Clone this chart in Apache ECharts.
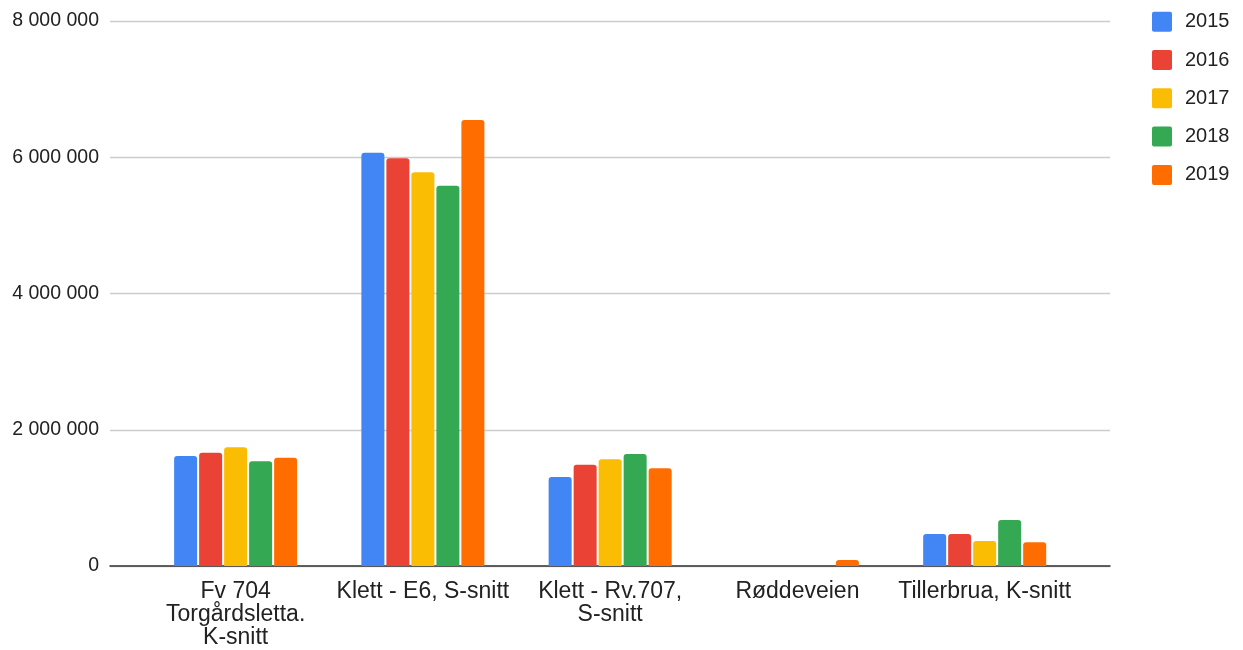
<!DOCTYPE html>
<html>
<head>
<meta charset="utf-8">
<script src="https://cdn.jsdelivr.net/npm/echarts@6/dist/echarts.min.js"></script>
<style>html,body{margin:0;padding:0;background:#fff}#c{width:1243px;height:650px}</style>
</head>
<body>
<div id="c"></div>
<script>
const categories = ['Fv 704\nTorgårdsletta.\nK-snitt', 'Klett - E6, S-snitt', 'Klett - Rv.707,\nS-snitt', 'Røddeveien', 'Tillerbrua, K-snitt'];
const seriesNames = ['2015', '2016', '2017', '2018', '2019'];
const y2015 = [1614000, 6065000, 1306000, null, 470000];
const y2016 = [1663000, 5987000, 1487000, null, 470000];
const y2017 = [1742000, 5780000, 1566000, null, 367000];
const y2018 = [1536000, 5580000, 1643000, null, 675000];
const y2019 = [1590000, 6545000, 1434000, 88000, 348000];
const yTicks = [0, 2000000, 4000000, 6000000, 8000000];
const colors = ['#4285F4', '#EA4335', '#FBBC04', '#34A853', '#FF6D01'];
const values = [y2015, y2016, y2017, y2018, y2019];

const font = '"Liberation Sans", Arial, sans-serif';
const fmt = v => String(v).replace(/\B(?=(\d{3})+(?!\d))/g, ' ');

const chart = echarts.init(document.getElementById('c'));
chart.setOption({
  animation: false,
  color: colors,
  textStyle: { fontFamily: font },
  grid: [
    { left: 142, right: 164.7, top: 21, bottom: 84 },
    { left: 110, right: 133, top: 21, bottom: 84 }
  ],
  legend: {
    orient: 'vertical',
    left: 1152,
    top: 11.7,
    padding: 0,
    icon: 'path://M2,0H18A2,2 0 0 1 20,2V18A2,2 0 0 1 18,20H2A2,2 0 0 1 0,18V2A2,2 0 0 1 2,0Z',
    itemWidth: 20,
    itemHeight: 20,
    itemGap: 18.3,
    textStyle: { fontSize: 20, color: '#222', fontFamily: font, padding: [0, 0, 0, 8] },
    data: seriesNames
  },
  xAxis: [
    {
      type: 'category', gridIndex: 0, data: categories,
      axisLine: { show: false }, axisTick: { show: false },
      axisLabel: { fontSize: 23, lineHeight: 23.4, color: '#222', margin: 13.5, interval: 0, fontFamily: font }
    },
    {
      type: 'value', gridIndex: 1, min: 0, max: 1,
      axisLine: { show: true, lineStyle: { color: '#333', width: 1.5 } },
      axisTick: { show: false }, axisLabel: { show: false }, splitLine: { show: false }
    }
  ],
  yAxis: [
    { type: 'value', gridIndex: 0, min: yTicks[0], max: yTicks[yTicks.length - 1], interval: 2000000, show: false, splitLine: { show: false } },
    {
      type: 'value', gridIndex: 1, min: yTicks[0], max: yTicks[yTicks.length - 1], interval: 2000000,
      axisLine: { show: false }, axisTick: { show: false },
      axisLabel: { fontSize: 19.5, color: '#222', margin: 11, formatter: fmt, fontFamily: font },
      splitLine: { lineStyle: { color: '#cccccc', width: 1.3 } }
    }
  ],
  series: seriesNames.map((n, i) => ({
    name: n,
    type: 'bar',
    xAxisIndex: 0,
    yAxisIndex: 0,
    data: values[i],
    barWidth: 23,
    barGap: '8.7%',
    itemStyle: { borderRadius: [3, 3, 0, 0] }
  }))
});
</script>
</body>
</html>
